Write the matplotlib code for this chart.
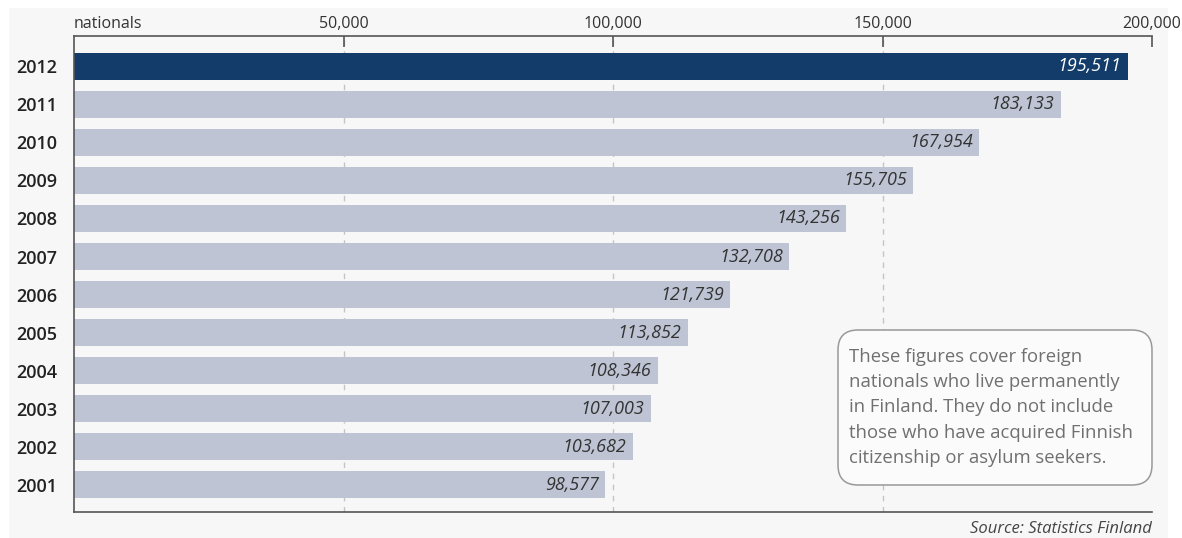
import matplotlib.pyplot as plt
from matplotlib.patches import Rectangle, FancyBboxPatch
from matplotlib.ticker import FuncFormatter

plt.rcParams['font.family'] = ['Open Sans', 'DejaVu Sans']

years = ['2001', '2002', '2003', '2004', '2005', '2006',
         '2007', '2008', '2009', '2010', '2011', '2012']
foreign_nationals = [98577, 103682, 107003, 108346, 113852, 121739,
                     132708, 143256, 155705, 167954, 183133, 195511]
x_ticks = [0, 50000, 100000, 150000, 200000]

W, H = 1182, 538
fig = plt.figure(figsize=(W / 100, H / 100), dpi=100)
fig.patch.set_facecolor('white')

# light panel behind the whole chart
fig.patches.append(Rectangle((9 / W, 0), (1168 - 9) / W, (H - 8) / H,
                             transform=fig.transFigure, facecolor='#f7f7f7',
                             edgecolor='none', zorder=-10))

ax = fig.add_axes([74 / W, 26 / H, (1152 - 74) / W, (512 - 36) / H])
ax.set_facecolor('none')

pos = list(range(len(years)))
colors = ['#bec4d4'] * (len(years) - 1) + ['#133c6b']
ax.barh(pos, foreign_nationals, height=0.72, color=colors, zorder=2)

for p, v, c in zip(pos, foreign_nationals, colors):
    tc = 'white' if c == '#133c6b' else '#333333'
    ax.text(v - 1200, p, f'{v:,}', ha='right', va='center', fontsize=13,
            style='italic', color=tc, zorder=3)

ax.set_xlim(0, 200000)
ax.set_ylim(-0.72, len(years) - 1 + 0.8)

# top axis with ticks hanging into the plot
ax.xaxis.tick_top()
ax.set_xticks(x_ticks)
ax.xaxis.set_major_formatter(FuncFormatter(lambda x, _: 'nationals' if x == 0 else f'{int(x):,}'))
ax.tick_params(axis='x', direction='in', length=8, width=1.2, color='#555555',
               labelsize=11.5, labelcolor='#333333', pad=3)
ax.get_xticklabels()[0].set_horizontalalignment('left')
ax.xaxis.get_major_ticks()[0].tick2line.set_visible(False)

ax.set_yticks(pos)
ax.set_yticklabels(years)
ax.tick_params(axis='y', length=0, labelsize=13, labelcolor='#222222', pad=12)
for lbl in ax.get_yticklabels():
    lbl.set_fontweight('semibold')

for s in ['top', 'bottom', 'left']:
    ax.spines[s].set_color('#555555')
    ax.spines[s].set_linewidth(1.2)
ax.spines['right'].set_visible(False)

for g in x_ticks[1:-1]:
    ax.axvline(g, color='#c4c4c4', linestyle=(0, (4, 4)), linewidth=1, zorder=1)

# note box, placed in inches from the lower-left corner of the figure
note_box = FancyBboxPatch((8.38, 0.53), 3.14, 1.55,
                          boxstyle='round,pad=0,rounding_size=0.2',
                          transform=fig.dpi_scale_trans, facecolor='#fbfbfb',
                          edgecolor='#999999', linewidth=1.1, zorder=4)
fig.patches.append(note_box)
fig.text(8.49 / (W / 100), 1.305 / (H / 100),
         'These figures cover foreign\nnationals who live permanently\n'
         'in Finland. They do not include\nthose who have acquired Finnish\n'
         'citizenship or asylum seekers.',
         ha='left', va='center', fontsize=13.3, color='#707070',
         linespacing=1.52, zorder=5)

fig.text(1152 / W, 1 / H, 'Source: Statistics Finland', ha='right', va='bottom',
         fontsize=12, style='italic', color='#444444')

fig.savefig('out.png', dpi=100, facecolor=fig.get_facecolor())
